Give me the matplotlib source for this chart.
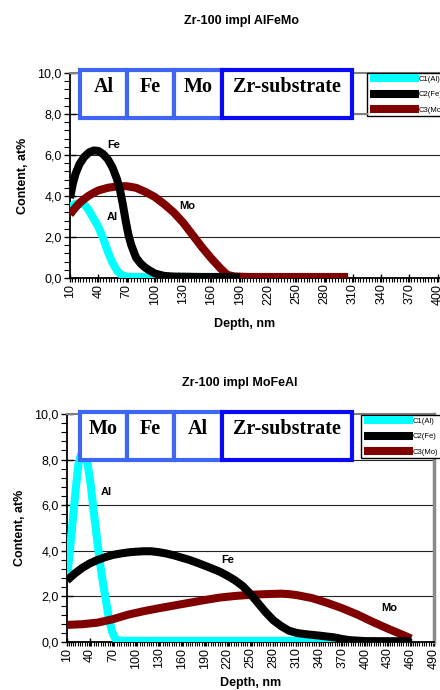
import matplotlib
matplotlib.use("Agg")
import matplotlib.pyplot as plt
from matplotlib.ticker import MultipleLocator, FuncFormatter
from matplotlib.patches import Rectangle
from matplotlib.lines import Line2D

plt.rcParams['font.family'] = ['Liberation Sans', 'DejaVu Sans']

# ---------------- data: top chart (Zr-100 impl AlFeMo) ----------------
top_al_d = [10, 15, 20, 25, 30, 35, 40, 45, 50, 55, 60, 65, 70, 80, 100, 150, 200, 250, 300]
top_al_c = [3.45, 3.6, 3.65, 3.6, 3.3, 2.9, 2.5, 1.95, 1.3, 0.75, 0.35, 0.13, 0.07, 0.05, 0.05, 0.05, 0.05, 0.05, 0.05]

top_fe_d = [10, 13, 16, 20, 25, 30, 35, 40, 45, 50, 55, 60, 63, 66, 69, 72, 75, 80, 85, 90, 95, 100, 110, 120, 150, 190]
top_fe_c = [3.9, 4.6, 5.1, 5.55, 5.9, 6.12, 6.22, 6.2, 6.05, 5.8, 5.4, 4.8, 4.3, 3.6, 2.8, 2.1, 1.6, 1.0, 0.7, 0.5, 0.35, 0.22, 0.1, 0.07, 0.05, 0.05]

top_mo_d = [10, 15, 20, 25, 30, 35, 40, 50, 60, 70, 80, 90, 100, 110, 120, 130, 140, 150, 160, 170, 177, 185, 200, 250, 305]
top_mo_c = [3.1, 3.4, 3.65, 3.85, 4.02, 4.15, 4.27, 4.4, 4.47, 4.48, 4.4, 4.2, 3.95, 3.6, 3.2, 2.7, 2.1, 1.5, 0.95, 0.45, 0.15, 0.07, 0.05, 0.05, 0.05]

# ---------------- data: bottom chart (Zr-100 impl MoFeAl) ----------------
bot_al_d = [10, 14, 18, 22, 25, 28, 31, 34, 37, 41, 45, 49, 53, 57, 61, 65, 69, 73, 78, 120, 200, 300, 370]
bot_al_c = [2.7, 4.1, 5.5, 6.9, 7.8, 8.2, 8.3, 8.2, 7.8, 6.9, 5.7, 4.6, 3.5, 2.6, 1.8, 1.0, 0.45, 0.15, 0.06, 0.05, 0.05, 0.05, 0.05]

bot_fe_d = [10, 20, 30, 40, 50, 60, 70, 80, 90, 100, 110, 120, 130, 140, 150, 160, 170, 180, 190, 200,
            210, 220, 230, 240, 250, 260, 270, 280, 290, 300, 310, 320, 340, 360, 370, 380, 400, 460]
bot_fe_c = [2.7, 3.0, 3.25, 3.45, 3.6, 3.72, 3.82, 3.88, 3.93, 3.96, 3.98, 3.98, 3.94, 3.88, 3.8, 3.7, 3.6, 3.48, 3.35, 3.22,
            3.08, 2.9, 2.7, 2.45, 2.1, 1.7, 1.3, 0.95, 0.7, 0.5, 0.4, 0.35, 0.28, 0.2, 0.13, 0.08, 0.04, 0.03]

bot_mo_d = [10, 30, 50, 70, 90, 110, 130, 150, 170, 190, 210, 230, 250, 270, 290, 300, 310, 330, 350, 370, 390, 410, 430, 450, 460]
bot_mo_c = [0.75, 0.78, 0.85, 1.0, 1.2, 1.35, 1.48, 1.6, 1.72, 1.84, 1.95, 2.02, 2.07, 2.1, 2.12, 2.1, 2.06, 1.93, 1.72, 1.48, 1.2, 0.88, 0.58, 0.3, 0.15]

series_names = ['C1(Al)', 'C2(Fe)', 'C3(Mo)']
series_colors = ['#00FFFF', '#000000', '#800000']

top_title = 'Zr-100 impl AlFeMo'
bot_title = 'Zr-100 impl MoFeAl'
top_boxes = ['Al', 'Fe', 'Mo', 'Zr-substrate']
bot_boxes = ['Mo', 'Fe', 'Al', 'Zr-substrate']

top_xticks = list(range(10, 431, 30))
bot_xticks = list(range(10, 491, 30))
yticks = [0, 2, 4, 6, 8, 10]

W, H = 440, 690
fig = plt.figure(figsize=(W / 100, H / 100), dpi=100)


def fx(px):
    return px / W


def fy(py):
    return 1 - py / H


def setup_axes(ax, xlim, xticks, right_spine, xlabelpad):
    ax.set_xlim(*xlim)
    ax.set_ylim(0, 10)
    ax.set_xticks(xticks)
    ax.xaxis.set_minor_locator(MultipleLocator(3))
    ax.set_yticks(yticks)
    ax.yaxis.set_minor_locator(MultipleLocator(0.4))
    ax.yaxis.set_major_formatter(FuncFormatter(lambda v, p: f"{v:.1f}".replace('.', ',')))
    ax.tick_params(axis='x', which='major', direction='inout', length=6, width=1, labelrotation=90,
                   labelsize=9, pad=1)
    ax.tick_params(axis='x', which='minor', direction='out', length=3, width=0.8)
    ax.tick_params(axis='y', which='major', direction='inout', length=8, width=1, labelsize=9, pad=2)
    ax.tick_params(axis='y', which='minor', direction='out', length=4, width=0.8)
    for v in [2, 4, 6, 8]:
        ax.axhline(v, color='#222222', lw=0.8, zorder=1)
    ax.spines['left'].set_color('black')
    ax.spines['left'].set_linewidth(1.3)
    ax.spines['bottom'].set_color('black')
    ax.spines['bottom'].set_linewidth(1.3)
    ax.spines['top'].set_color('#808080')
    ax.spines['top'].set_linewidth(1.5)
    if right_spine:
        ax.spines['right'].set_color('#8a8a8a')
        ax.spines['right'].set_linewidth(2.5)
    else:
        ax.spines['right'].set_visible(False)
    ax.set_xlabel('Depth, nm', fontsize=9, fontweight='bold', labelpad=xlabelpad)
    ax.set_ylabel('Content, at%', fontsize=9, fontweight='bold', labelpad=6)


def draw_boxes(labels, xs, y0, y1, colors):
    for lab, (a, b), col in zip(labels, xs, colors):
        r = Rectangle((fx(a), fy(y1)), fx(b) - fx(a), fy(y0) - fy(y1), transform=fig.transFigure,
                      facecolor='white', edgecolor=col, lw=3, zorder=10)
        fig.add_artist(r)
        fig.text(fx((a + b) / 2), fy(y0 + (y1 - y0) * 0.36), lab, ha='center', va='center',
                 family=['Liberation Serif', 'DejaVu Serif'], fontweight='bold', fontsize=14.5, zorder=11)


LW = 5.8

# ---------------- top chart ----------------
ax1 = fig.add_axes([fx(70), fy(278), fx(466) - fx(70), fy(73) - fy(278)])
setup_axes(ax1, (10, 430), top_xticks, right_spine=False, xlabelpad=10)
ax1.xaxis.label.set_x((fx(245) - fx(70)) / (fx(466) - fx(70)))
l_al, = ax1.plot(top_al_d, top_al_c, color=series_colors[0], lw=LW, zorder=3, solid_capstyle='butt')
l_mo, = ax1.plot(top_mo_d, top_mo_c, color=series_colors[2], lw=LW, zorder=4, solid_capstyle='butt')
l_fe, = ax1.plot(top_fe_d, top_fe_c, color=series_colors[1], lw=LW, zorder=5, solid_capstyle='butt')
ax1.text(56, 6.5, 'Fe', fontsize=8, fontweight='bold', ha='center', va='center')
ax1.text(55, 3.0, 'Al', fontsize=8, fontweight='bold', ha='center', va='center')
ax1.text(134, 3.5, 'Mo', fontsize=8, fontweight='bold', ha='center', va='center')
fig.text(fx(241), fy(21), top_title, ha='center', va='center', fontsize=9, fontweight='bold')

box_colors = ['#3f66f2', '#3f66f2', '#3f66f2', '#0a0af5']
draw_boxes(top_boxes, [(80, 127), (127, 174), (174, 222), (222, 352)], 70, 118, box_colors)
fig.add_artist(Line2D([fx(352), fx(367)], [fy(114), fy(114)], transform=fig.transFigure,
                      color='#808080', lw=1.5, zorder=9))

fig.legend([l_al, l_fe, l_mo], series_names, loc='upper left', bbox_to_anchor=(fx(367), fy(73)),
           fontsize=5.5, handlelength=6.4, handletextpad=0.05, borderpad=0.35, labelspacing=1.05,
           frameon=True, fancybox=False, edgecolor='black', framealpha=1, borderaxespad=0)

# ---------------- bottom chart ----------------
ax2 = fig.add_axes([fx(67), fy(642), fx(434) - fx(67), fy(414) - fy(642)])
setup_axes(ax2, (10, 490), bot_xticks, right_spine=True, xlabelpad=6)
b_al, = ax2.plot(bot_al_d, bot_al_c, color=series_colors[0], lw=LW, zorder=3, solid_capstyle='butt')
b_mo, = ax2.plot(bot_mo_d, bot_mo_c, color=series_colors[2], lw=LW, zorder=4, solid_capstyle='butt')
b_fe, = ax2.plot(bot_fe_d, bot_fe_c, color=series_colors[1], lw=LW, zorder=5, solid_capstyle='butt')
ax2.text(62, 6.6, 'Al', fontsize=8, fontweight='bold', ha='center', va='center')
ax2.text(220, 3.6, 'Fe', fontsize=8, fontweight='bold', ha='center', va='center')
ax2.text(431, 1.5, 'Mo', fontsize=8, fontweight='bold', ha='center', va='center')
fig.text(fx(240), fy(383), bot_title, ha='center', va='center', fontsize=9, fontweight='bold')

draw_boxes(bot_boxes, [(80, 127), (127, 174), (174, 222), (222, 352)], 412, 460, box_colors)

fig.legend([b_al, b_fe, b_mo], series_names, loc='upper left', bbox_to_anchor=(fx(361), fy(415)),
           fontsize=5.5, handlelength=6.4, handletextpad=0.05, borderpad=0.35, labelspacing=1.05,
           frameon=True, fancybox=False, edgecolor='black', framealpha=1, borderaxespad=0)

fig.savefig('out.png', dpi=100)
